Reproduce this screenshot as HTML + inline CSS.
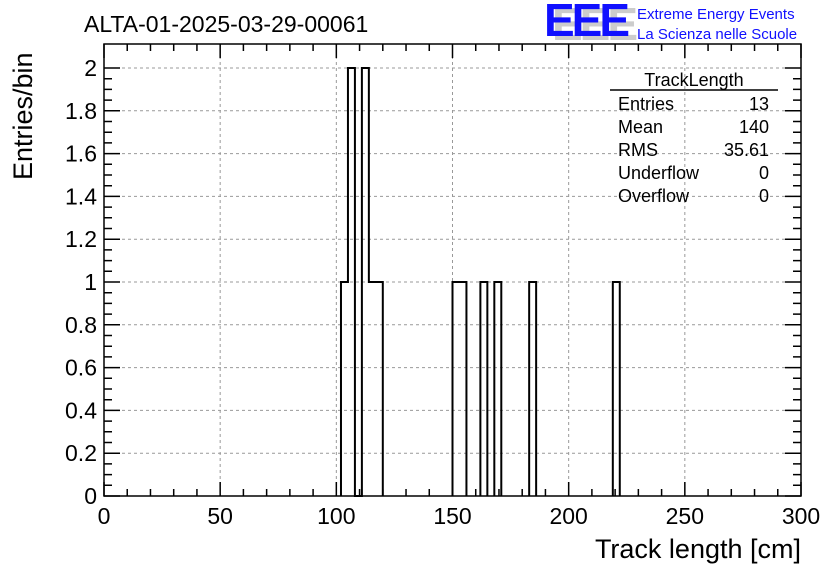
<!DOCTYPE html>
<html><head><meta charset="utf-8"><style>
body{margin:0;background:#fff}
svg{display:block;font-family:"Liberation Sans",sans-serif}
</style></head><body>
<svg id="c" width="836" height="572" viewBox="0 0 836 572">
<rect width="836" height="572" fill="#fff"/>
<g id="grid"></g>
<g id="axes"></g>
<path id="hist" fill="none" stroke="#000" stroke-width="2"/>
<rect x="104" y="44" width="697" height="452" fill="none" stroke="#000" stroke-width="1.5"/>
<text x="84" y="32" font-size="23">ALTA-01-2025-03-29-00061</text>
<text x="801" y="558" font-size="27" text-anchor="end">Track length [cm]</text>
<text transform="translate(32,180) rotate(-90)" font-size="27" text-anchor="start">Entries/bin</text>
<g>
<text x="552" y="40" font-size="46" font-weight="bold" fill="#ccc" letter-spacing="-3" transform="scale(1,1)">EEE</text>
<text x="544" y="36" font-size="46" font-weight="bold" fill="#1010ff" letter-spacing="-3">EEE</text>
<text x="637" y="19" font-size="15" fill="#1010ff">Extreme Energy Events</text>
<text x="637" y="39" font-size="15" fill="#1010ff">La Scienza nelle Scuole</text>
</g>
<g font-size="18">
<text x="694" y="86" text-anchor="middle">TrackLength</text>
<line x1="610" y1="90" x2="778" y2="90" stroke="#000" stroke-width="1.5"/>
<text x="618" y="110">Entries</text><text x="769" y="110" text-anchor="end">13</text>
<text x="618" y="133">Mean</text><text x="769" y="133" text-anchor="end">140</text>
<text x="618" y="156">RMS</text><text x="769" y="156" text-anchor="end">35.61</text>
<text x="618" y="179">Underflow</text><text x="769" y="179" text-anchor="end">0</text>
<text x="618" y="202">Overflow</text><text x="769" y="202" text-anchor="end">0</text>
</g>
</svg>
<script>
const binEdgesLow = [102,105,108,111,114,117,150,153,162,168,183,219];
const binCounts   = [1,2,0,2,1,1,1,1,1,1,1,1];
const xTicks = [0,50,100,150,200,250,300];
const yTicks = [0,0.2,0.4,0.6,0.8,1,1.2,1.4,1.6,1.8,2];
const binWidth = 3;
const X0=104,X1=801,Y0=496,Y1=68;
const xs=v=>X0+(v-0)/300*(X1-X0);
const ys=v=>Y0-(v/2)*(Y0-Y1);
const NS="http://www.w3.org/2000/svg";
function mk(tag,attrs,parent){const e=document.createElementNS(NS,tag);for(const k in attrs)e.setAttribute(k,attrs[k]);parent.appendChild(e);return e;}
const grid=document.getElementById('grid'),axes=document.getElementById('axes');
xTicks.forEach(t=>{
 if(t>0&&t<300){const l=mk('line',{x1:xs(t),x2:xs(t),y1:44,y2:496,stroke:'#999','stroke-dasharray':'3,3'},grid);
 
 }
 const tx=mk('text',{x:xs(t),y:524,'font-size':23,'text-anchor':'middle'},axes);
 
 
 tx.textContent=t;
});
yTicks.forEach(t=>{
 if(t>0){const l=mk('line',{x1:104,x2:801,y1:ys(t),y2:ys(t),stroke:'#999','stroke-dasharray':'3,3'},grid);
 
 }
 const tx=mk('text',{x:97,y:ys(t)+8,'font-size':23,'text-anchor':'end'},axes);
 
 
 tx.textContent=String(Math.round(t*10)/10);
});
let d='';
for(let v=0;v<=300;v+=10){const big=v%50===0?14:7;const x=xs(v);d+=`M${x},496v${-big}M${x},44v${big}`;}
for(let v=0;v<=2.0001;v+=0.05){const big=Math.abs(v*5-Math.round(v*5))<1e-6?16:8;const y=ys(v);d+=`M104,${y}h${big}M801,${y}h${-big}`;}
const tk=mk('path',{d:d,stroke:'#000','stroke-width':1.5,fill:'none'},axes);


let p='',prevH=0,prevEnd=null;
binEdgesLow.forEach((lo,i)=>{
 const h=binCounts[i];
 if(prevEnd===null||Math.abs(prevEnd-lo)>1e-6){ if(prevEnd!==null)p+=`L${xs(prevEnd)},${ys(0)}`; p+=`M${xs(lo)},${ys(0)}`; }
 else p+=`L${xs(lo)},${ys(prevH)}`;
 p+=`L${xs(lo)},${ys(h)}L${xs(lo+binWidth)},${ys(h)}`;
 prevH=h;prevEnd=lo+binWidth;
});
p+=`L${xs(prevEnd)},${ys(0)}`;
document.getElementById('hist').setAttribute('d',p);
</script>
</body></html>
